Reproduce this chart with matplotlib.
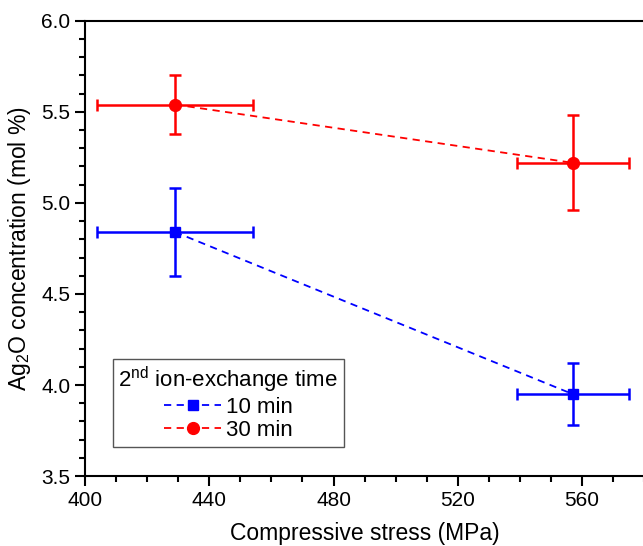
import matplotlib
matplotlib.use("Agg")
import matplotlib.pyplot as plt
from matplotlib.ticker import MultipleLocator, FormatStrFormatter

plt.rcParams['font.family'] = ['Liberation Sans', 'DejaVu Sans']
plt.rcParams['mathtext.fontset'] = 'custom'
plt.rcParams['mathtext.rm'] = 'Liberation Sans'
plt.rcParams['mathtext.it'] = 'Liberation Sans:italic'

# du lieu doc tu hinh
stress = [429, 557]
stress_err = [25, 18]
conc_10 = [4.84, 3.95]
conc_10_err = [0.24, 0.17]
conc_30 = [5.54, 5.22]
conc_30_err = [0.16, 0.26]

fig = plt.figure(figsize=(6.43, 5.46), dpi=100)
ax = fig.add_axes([0.132, 0.128, 0.87, 0.834])

dash = (0, (4, 3))
# thanh sai so
ax.errorbar(stress, conc_10, xerr=stress_err, yerr=conc_10_err, fmt='none',
            ecolor='#0000ff', elinewidth=1.8, capsize=4, capthick=1.8)
ax.errorbar(stress, conc_30, xerr=stress_err, yerr=conc_30_err, fmt='none',
            ecolor='#ff0000', elinewidth=1.8, capsize=4, capthick=1.8)
# duong noi va diem
ax.plot(stress, conc_10, color='#0000ff', marker='s', markersize=7,
        linestyle=dash, linewidth=1.3, label='10 min')
ax.plot(stress, conc_30, color='#ff0000', marker='o', markersize=8.5,
        linestyle=dash, linewidth=1.3, label='30 min')

ax.set_xlim(400, 580)
ax.set_ylim(3.5, 6.0)
ax.xaxis.set_major_locator(MultipleLocator(40))
ax.xaxis.set_minor_locator(MultipleLocator(10))
ax.yaxis.set_major_locator(MultipleLocator(0.5))
ax.yaxis.set_minor_locator(MultipleLocator(0.1))
ax.yaxis.set_major_formatter(FormatStrFormatter('%.1f'))
ax.tick_params(which='major', direction='out', length=7, width=1.5, labelsize=15)
ax.tick_params(which='minor', direction='out', length=4, width=1.5)
for s in ax.spines.values():
    s.set_linewidth(1.5)
ax.spines['right'].set_visible(False)

ax.set_xlabel('Compressive stress (MPa)', fontsize=16.5, labelpad=9)
ax.set_ylabel('Ag$_2$O concentration (mol %)', fontsize=16.5, labelpad=6)

leg = ax.legend(title='2$^{\\rm nd}$ ion-exchange time', loc='lower left',
                bbox_to_anchor=(0.05, 0.065), fontsize=16, title_fontsize=16,
                fancybox=False, edgecolor='#555555', framealpha=1,
                handlelength=2.6, handletextpad=0.2, borderpad=0.25,
                labelspacing=0.1, borderaxespad=0)
leg.get_frame().set_linewidth(1.0)

fig.savefig('out.png', dpi=100)
